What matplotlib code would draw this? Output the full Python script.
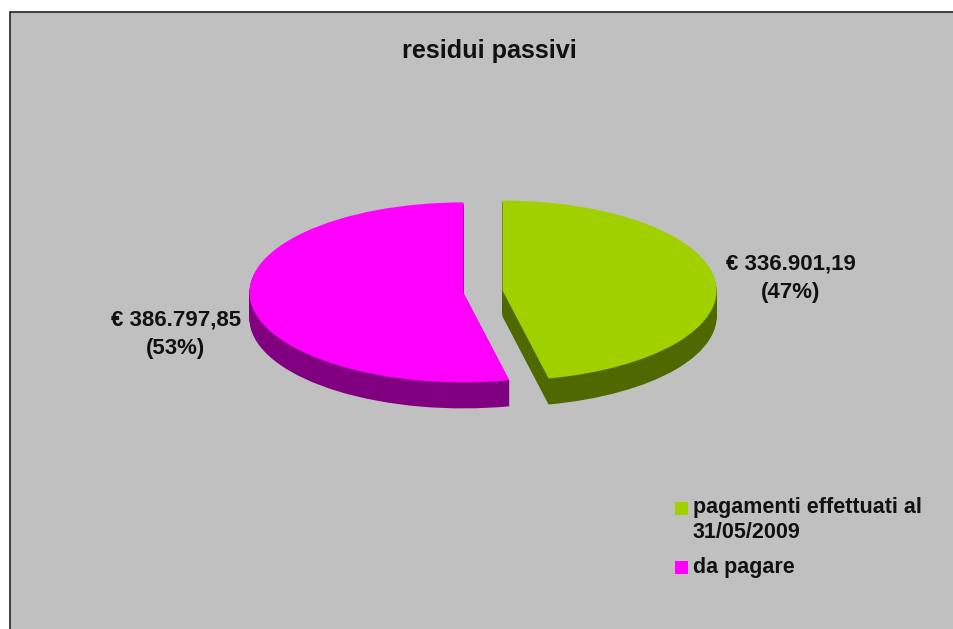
import matplotlib
matplotlib.use('Agg')
import matplotlib.pyplot as plt
from matplotlib.patches import Rectangle

title = 'residui passivi'
labels = ['pagamenti effettuati al\n31/05/2009', 'da pagare']
values = [336901.19, 386797.85]
value_labels = ['€ 336.901,19\n(47%)', '€ 386.797,85\n(53%)']
colors = ['#A0D000', '#FF00FF']
dark_colors = ['#506800', '#800080']

W, H = 954, 629
plt.rcParams['font.family'] = ['Liberation Sans', 'DejaVu Sans']

fig = plt.figure(figsize=(W / 100, H / 100), dpi=100, facecolor='white')

# background axes in pixel coordinates, for the frame and the texts
bg = fig.add_axes([0, 0, 1, 1])
bg.set_xlim(0, W)
bg.set_ylim(H, 0)
bg.axis('off')
bg.add_patch(Rectangle((10, 11.5), W, H, facecolor='#C0C0C0', edgecolor='#222222', linewidth=1.2))

# pie axes, one unit of radius is 214 px across and 90 px high
rx, ry = 214.0, 90.0
cx, cy = 483.0, 291.5
depth = 26
pie_ax = fig.add_axes([0, 0, 1, 1], facecolor='none')
explode = [0.092, 0.092]

def draw_pie(offset, cols):
    pie_ax.pie(values, colors=cols, explode=explode, startangle=90, counterclock=False,
               center=(0, -offset / ry), radius=1.0, wedgeprops={'linewidth': 0})

# the side of the pie is a stack of dark copies
for d in range(depth, 0, -1):
    draw_pie(d, dark_colors)
draw_pie(0, colors)

pie_ax.set_aspect('auto')
pie_ax.set_xlim(-cx / rx, (W - cx) / rx)
pie_ax.set_ylim(-(H - cy) / ry, cy / ry)
pie_ax.axis('off')

bg.set_zorder(0)
pie_ax.set_zorder(1)

txt = fig.add_axes([0, 0, 1, 1], facecolor='none')
txt.set_xlim(0, W)
txt.set_ylim(H, 0)
txt.axis('off')
txt.set_zorder(2)

txt.text(489.5, 51, title, ha='center', va='center', fontsize=18.2, fontweight='bold', color='#111111')
txt.text(791, 278, value_labels[0], ha='center', va='center', fontsize=16, fontweight='bold',
         color='#111111', linespacing=1.45)
txt.text(176, 334, value_labels[1], ha='center', va='center', fontsize=16, fontweight='bold',
         color='#111111', linespacing=1.45)

# legend
txt.add_patch(Rectangle((675, 502), 13, 13, facecolor=colors[0], edgecolor='none'))
txt.add_patch(Rectangle((675, 561), 13, 13, facecolor=colors[1], edgecolor='none'))
txt.text(693, 507, 'pagamenti effettuati al', ha='left', va='center', fontsize=15.5, fontweight='bold', color='#111111')
txt.text(693, 532, '31/05/2009', ha='left', va='center', fontsize=15.5, fontweight='bold', color='#111111')
txt.text(693, 567, labels[1], ha='left', va='center', fontsize=15.5, fontweight='bold', color='#111111')

fig.savefig('out.png', dpi=100)
